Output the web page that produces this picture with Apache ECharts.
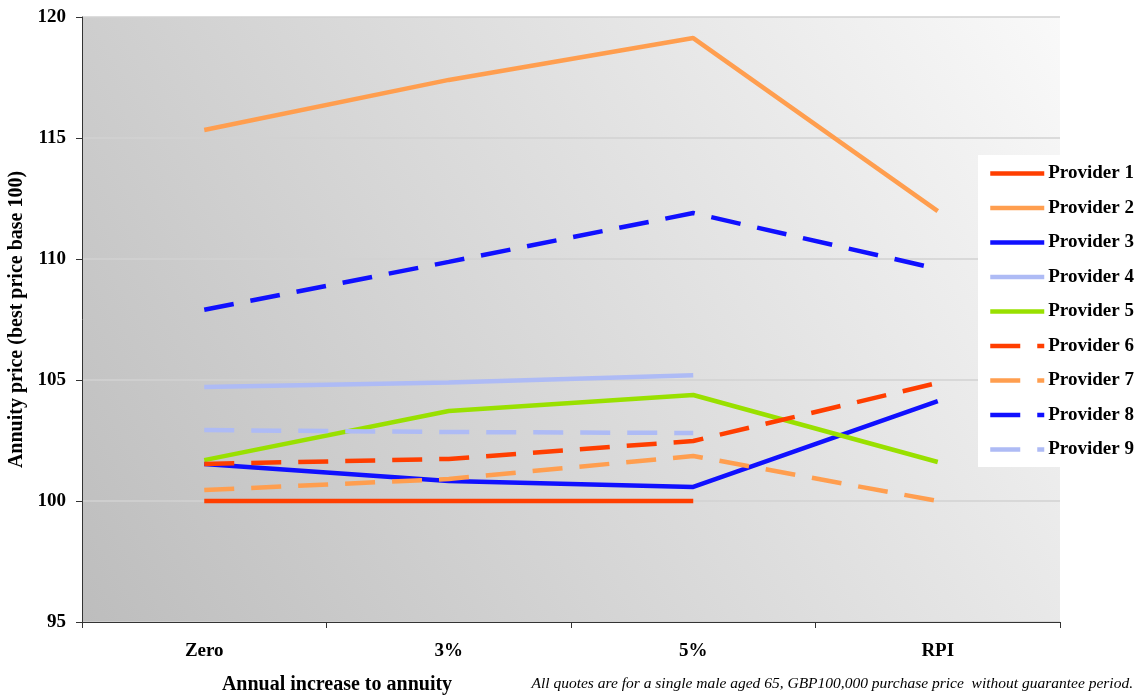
<!DOCTYPE html>
<html><head><meta charset="utf-8">
<script src="https://cdn.jsdelivr.net/npm/echarts@6/dist/echarts.min.js"></script>
<style>html,body{margin:0;padding:0;background:#fff}#c{width:1143px;height:696px}</style>
</head><body><div id="c"></div>
<script>
const categories = ['Zero', '3%', '5%', 'RPI'];
const provider1 = [100, 100, 100, null];
const provider2 = [115.33, 117.4, 119.13, 111.98];
const provider3 = [101.53, 100.83, 100.58, 104.13];
const provider4 = [104.71, 104.9, 105.2, null];
const provider5 = [101.69, 103.72, 104.38, 101.61];
const provider6 = [101.53, 101.74, 102.48, 104.88];
const provider7 = [100.45, 100.91, 101.86, 100.0];
const provider8 = [107.9, 109.88, 111.9, 109.59];
const provider9 = [102.93, 102.85, 102.81, null];
const yTicks = { min: 95, max: 120, interval: 5 };

const FONT = '"Liberation Serif", "Times New Roman", serif';
const C1 = '#FF3E00', C2 = '#FF9E4F', C3 = '#1010FF', C4 = '#AEBBF5', C5 = '#99E000';
const DASH = [30, 17];
function mk(name, data, color, dashed) {
  return {
    name, type: 'line', data, symbol: 'none', connectNulls: false,
    lineStyle: { color, width: 4.5, type: dashed ? DASH : 'solid' },
    itemStyle: { color },
    emphasis: { disabled: true }, animation: false
  };
}
const chart = echarts.init(document.getElementById('c'));
chart.setOption({
  animation: false,
  backgroundColor: '#ffffff',
  grid: {
    left: 82, top: 17, right: 83, bottom: 74, show: true, borderWidth: 0,
    outerBoundsMode: 'none', containLabel: false,
    backgroundColor: { type: 'linear', x: 0, y: 1, x2: 1, y2: 0,
      colorStops: [{ offset: 0, color: '#bdbdbd' }, { offset: 1, color: '#f9f9f9' }] }
  },
  xAxis: {
    type: 'category', data: categories, boundaryGap: true,
    axisLine: { lineStyle: { color: '#333', width: 1 } },
    axisTick: { show: true, length: 6, lineStyle: { color: '#333' } },
    axisLabel: { fontFamily: FONT, fontWeight: 'bold', fontSize: 19, color: '#000', margin: 20 },
    splitLine: { show: false }
  },
  yAxis: {
    type: 'value', min: yTicks.min, max: yTicks.max, interval: yTicks.interval,
    name: 'Annuity price (best price base 100)', nameLocation: 'middle', nameGap: 54,
    nameTextStyle: { fontFamily: FONT, fontWeight: 'bold', fontSize: 20, color: '#000' },
    axisLine: { show: true, lineStyle: { color: '#333', width: 1 } },
    axisTick: { show: true, length: 6, lineStyle: { color: '#333' } },
    axisLabel: { fontFamily: FONT, fontWeight: 'bold', fontSize: 19, color: '#000', margin: 16 },
    splitLine: { show: true, lineStyle: { color: '#d2d2d2', width: 1.5 } }
  },
  legend: {
    orient: 'vertical', left: 978, top: 155,
    backgroundColor: '#ffffff', padding: [9, 20, 8, 10],
    itemWidth: 54, itemHeight: 14, itemGap: 15.5,
    itemStyle: { opacity: 0, borderWidth: 0 },
    lineStyle: { width: 4.5 },
    textStyle: { fontFamily: FONT, fontWeight: 'bold', fontSize: 19, lineHeight: 14, color: '#000', padding: [0, 0, 0, -1] },
    data: ['Provider 1','Provider 2','Provider 3','Provider 4','Provider 5','Provider 6','Provider 7','Provider 8','Provider 9']
  },
  graphic: [{
    type: 'text', x: 337, y: 685,
    style: { text: 'Annual increase to annuity', font: 'bold 20px ' + FONT, fill: '#000',
      textAlign: 'center', textVerticalAlign: 'middle' }
  }, {
    type: 'text', x: 1133, y: 684,
    style: { text: 'All quotes are for a single male aged 65, GBP100,000 purchase price  without guarantee period.',
      font: 'italic 15.5px ' + FONT, fill: '#000', textAlign: 'right', textVerticalAlign: 'middle' }
  }],
  series: [
    mk('Provider 1', provider1, C1, false),
    mk('Provider 2', provider2, C2, false),
    mk('Provider 3', provider3, C3, false),
    mk('Provider 4', provider4, C4, false),
    mk('Provider 5', provider5, C5, false),
    mk('Provider 6', provider6, C1, true),
    mk('Provider 7', provider7, C2, true),
    mk('Provider 8', provider8, C3, true),
    mk('Provider 9', provider9, C4, true)
  ]
});
</script></body></html>
